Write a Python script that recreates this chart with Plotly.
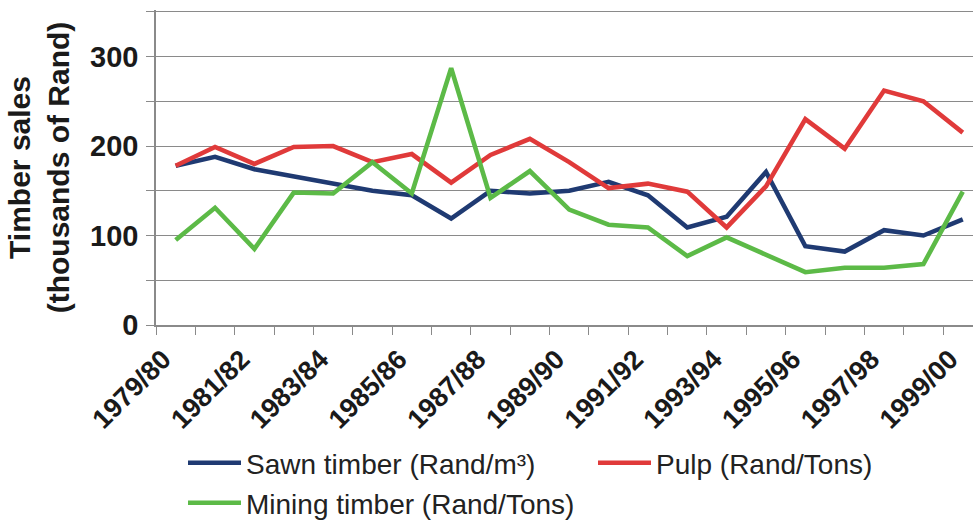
import plotly.graph_objects as go

# Seasons (financial years) on the horizontal axis
seasons = [
    "1979/80", "1980/81", "1981/82", "1982/83", "1983/84", "1984/85", "1985/86",
    "1986/87", "1987/88", "1988/89", "1989/90", "1990/91", "1991/92", "1992/93",
    "1993/94", "1994/95", "1995/96", "1996/97", "1997/98", "1998/99", "1999/00",
]

# Timber sales, thousands of Rand
sawn_timber = [178, 188, 174, 166, 158, 150, 145, 119, 150, 147, 150,
               160, 145, 109, 121, 171, 88, 82, 106, 100, 118]
pulp = [178, 199, 180, 199, 200, 182, 191, 159, 190, 208, 182,
        153, 158, 149, 109, 155, 230, 197, 262, 250, 215]
mining_timber = [95, 131, 85, 148, 147, 182, 147, 287, 142, 172, 129,
                 112, 109, 77, 98, 78, 59, 64, 64, 68, 149]

# labelled y ticks, plus an unlabelled top gridline
y_tick_values = [0, 100, 200, 300, 350]
y_tick_text = ["0", "100", "200", "300", ""]

FONT = "Liberation Sans, Arial, sans-serif"
GRID = "#8a8a8a"
W, H = 973, 521

idx = list(range(len(seasons)))
label_idx = idx[::2]
# rotated labels sit slightly left of their category centre
label_shift = 0.32

fig = go.Figure()
series = [
    ("Sawn timber (Rand/m³)", sawn_timber, "#1f3a72", "legend"),
    ("Pulp (Rand/Tons)", pulp, "#e03a3a", "legend2"),
    ("Mining timber (Rand/Tons)", mining_timber, "#5cba47", "legend3"),
]
for name, vals, color, leg in series:
    fig.add_trace(go.Scatter(
        x=idx, y=vals, name=name, mode="lines",
        line=dict(color=color, width=4.6),
        legend=leg, showlegend=True, hoverinfo="x+y+name",
    ))

legend_common = dict(
    xref="container", yref="container", xanchor="left", yanchor="middle",
    orientation="h", itemwidth=53, borderwidth=0,
    bgcolor="rgba(0,0,0,0)",
    font=dict(family=FONT, size=28, color="#222222"),
)

fig.update_layout(
    width=W, height=H,
    showlegend=True,
    margin=dict(l=156, r=0, t=10, b=196, autoexpand=False),
    paper_bgcolor="white", plot_bgcolor="white",
    legend=dict(x=183 / W, y=1 - 463 / H, **legend_common),
    legend2=dict(x=593 / W, y=1 - 463 / H, **legend_common),
    legend3=dict(x=183 / W, y=1 - 503 / H, **legend_common),
    xaxis=dict(
        range=[-0.5, 20.26],
        tickmode="array", tickvals=[i - label_shift for i in label_idx],
        ticktext=[seasons[i] for i in label_idx],
        tickangle=-45, ticks="", ticklabelstandoff=6,
        ticklabeloverflow="allow",
        tickfont=dict(family=FONT, size=27, color="#1a1a1a", weight=700),
        showgrid=False, zeroline=False,
        showline=True, linecolor=GRID, linewidth=1.5,
        minor=dict(tickvals=[i - 0.5 for i in idx], ticks="outside",
                   ticklen=8, tickcolor=GRID, tickwidth=1.3, showgrid=False),
    ),
    yaxis=dict(
        range=[0, 352],
        tickmode="array", tickvals=y_tick_values, ticktext=y_tick_text,
        ticks="outside", ticklen=8, tickcolor=GRID, tickwidth=1.3,
        ticklabelstandoff=2,
        tickfont=dict(family=FONT, size=29, color="#1a1a1a", weight=700),
        showgrid=True, gridcolor=GRID, gridwidth=1.3,
        zeroline=False, showline=True, linecolor=GRID, linewidth=1.5,
        minor=dict(dtick=50, ticks="outside", ticklen=8, tickcolor=GRID,
                   tickwidth=1.3, showgrid=True, gridcolor=GRID, gridwidth=1.3),
        title=dict(
            text="Timber sales<br>(thousands of Rand)",
            font=dict(family=FONT, size=30, color="#1a1a1a", weight=700),
            standoff=12,
        ),
        automargin=False,
    ),
)

fig.write_html("out.html")
